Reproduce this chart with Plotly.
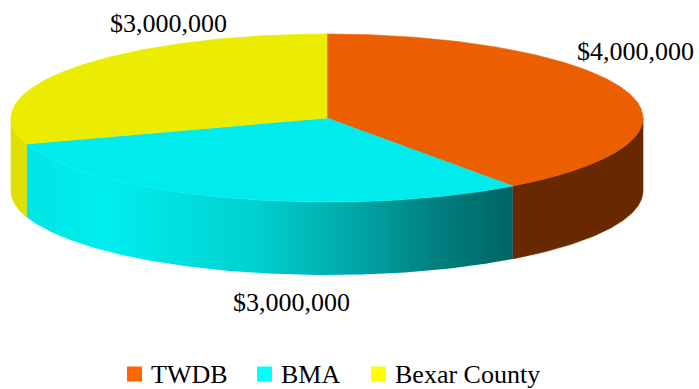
import numpy as np
import plotly.graph_objects as go

# Funding sources and amounts (USD)
sources = ["TWDB", "BMA", "Bexar County"]
amounts = [4000000, 3000000, 3000000]

# Colours: top faces, visible rims, legend swatches
top_colors = ["#EC5F00", "#00ECEC", "#ECEC00"]
rim_colors = ["#692900", "#00C8C8", "#E0E000"]
swatch_colors = ["#FF6600", "#00FFFF", "#FFFF00"]

W, H = 699, 389
FONT = "Liberation Serif"

# Pie geometry (pixel space of the page)
cx, cy = 327.0, 118.0
rx, ry = 316.0, 84.0
depth = 73.0


def ellipse(theta_deg, dy=0.0):
    t = np.radians(theta_deg)
    return cx + rx * np.sin(t), cy - ry * np.cos(t) + dy


def arc(a, b, dy=0.0, n=None):
    n = n or max(8, int(abs(b - a) * 2))
    th = np.linspace(a, b, n)
    x, y = ellipse(th, dy)
    return list(x), list(y)


total = float(sum(amounts))
bounds = np.concatenate([[0.0], np.cumsum(amounts) / total * 360.0])

fig = go.Figure()

# Rims: only the front half (90..270 degrees clockwise from 12 o'clock) is visible
for i, name in enumerate(sources):
    a, b = max(bounds[i], 90.0), min(bounds[i + 1], 270.0)
    if b <= a:
        continue
    tx, ty = arc(a, b)
    bx, by = arc(b, a, dy=depth)
    trace = dict(
        x=tx + bx + [tx[0]], y=ty + by + [ty[0]],
        mode="lines", fill="toself", showlegend=False, hoverinfo="skip",
        line=dict(width=0.6, color=rim_colors[i]), fillcolor=rim_colors[i],
    )
    if name == "BMA":
        trace["line"] = dict(width=0)
        trace["fillgradient"] = dict(
            type="horizontal",
            colorscale=[
                [0, "#00E4E4"], [0.16, "#00EEEE"], [0.47, "#00D0D0"],
                [0.67, "#00A8A8"], [0.84, "#008080"], [1, "#006464"],
            ],
        )
    fig.add_trace(go.Scatter(**trace))

# Top faces
for i, name in enumerate(sources):
    ax, ay = arc(bounds[i], bounds[i + 1])
    fig.add_trace(go.Scatter(
        x=[cx] + ax + [cx], y=[cy] + ay + [cy],
        mode="lines", fill="toself", showlegend=False, hoverinfo="skip",
        line=dict(width=0.6, color=top_colors[i]), fillcolor=top_colors[i],
    ))

# Value labels
label_xy = {"TWDB": (635, 51), "BMA": (291, 302), "Bexar County": (168, 23.5)}
for name, val in zip(sources, amounts):
    x, y = label_xy[name]
    fig.add_annotation(
        x=x, y=y, text=f"${val:,.0f}", showarrow=False,
        xanchor="center", yanchor="middle",
        font=dict(family=FONT, size=26, color="#000000"),
    )

# Legend row: swatch + name for each source
legend_y = 374
swatch_left = [127, 257, 371]
swatch = 15
for i, name in enumerate(sources):
    x0 = swatch_left[i]
    fig.add_shape(
        type="rect", xref="x", yref="y",
        x0=x0, x1=x0 + swatch, y0=legend_y - swatch / 2, y1=legend_y + swatch / 2,
        fillcolor=swatch_colors[i], line=dict(width=0),
    )
    fig.add_annotation(
        x=x0 + swatch + 7, y=legend_y + 0.5, text=name, showarrow=False,
        xanchor="left", yanchor="middle",
        font=dict(family=FONT, size=26, color="#000000"),
    )

fig.update_layout(
    width=W, height=H,
    margin=dict(l=0, r=0, t=0, b=0, autoexpand=False),
    font=dict(family=FONT, size=26, color="#000000"),
    paper_bgcolor="white", plot_bgcolor="white",
    xaxis=dict(range=[0, W], visible=False, fixedrange=True),
    yaxis=dict(range=[H, 0], visible=False, fixedrange=True),
    showlegend=False,
)

fig.write_html("out.html")
